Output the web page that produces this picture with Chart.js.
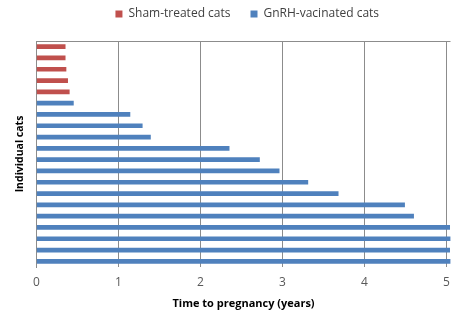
<!DOCTYPE html>
<html>
<head>
<meta charset="utf-8">
<script src="https://cdn.jsdelivr.net/npm/chart.js@4/dist/chart.umd.min.js"></script>
<style>
  body { margin: 0; background: #fff; }
  #wrap { width: 453px; height: 316px; }
</style>
</head>
<body>
<div id="wrap"><canvas id="myChart"></canvas></div>
<script>
// one row per cat, top to bottom
const gatos = ['', '', '', '', '', '', '', '', '', '', '', '', '', '', '', '', '', '', '', ''];
// sham-treated: first 5 rows
const sham = [0.35, 0.35, 0.36, 0.38, 0.40, null, null, null, null, null,
              null, null, null, null, null, null, null, null, null, null];
// GnRH-vacinated: remaining 15 rows
const gnrh = [null, null, null, null, null, 0.45, 1.14, 1.29, 1.39, 2.35,
              2.72, 2.96, 3.31, 3.68, 4.49, 4.60, 5.04, 5.05, 5.04, 5.05];
const ticksX = [0, 1, 2, 3, 4, 5];

// linea gris arriba del area del grafico + correr la leyenda un poco a la derecha
const ajustes = {
  id: 'ajustes',
  afterLayout(chart) {
    chart.legend.left += 17;
    chart.legend.right += 17;
  },
  afterDraw(chart) {
    const ctx = chart.ctx, a = chart.chartArea;
    ctx.save();
    ctx.strokeStyle = '#8c8c8c';
    ctx.lineWidth = 1;
    ctx.beginPath();
    ctx.moveTo(a.left, Math.round(a.top) + 0.5);
    ctx.lineTo(a.right, Math.round(a.top) + 0.5);
    ctx.stroke();
    ctx.restore();
  }
};

Chart.defaults.font.family = '"Open Sans", sans-serif';

let grafico = document.getElementById('myChart');
let myChart = new Chart(grafico, {
  type: 'bar',
  data: {
    labels: gatos,
    datasets: [
      { label: 'Sham-treated cats', data: sham, backgroundColor: '#c0504d', barThickness: 4 },
      { label: 'GnRH-vacinated cats', data: gnrh, backgroundColor: '#4f81bd', barThickness: 4 }
    ]
  },
  options: {
    indexAxis: 'y',
    responsive: true,
    maintainAspectRatio: false,
    animation: false,
    layout: { padding: { left: 10, right: 2.5, top: -12, bottom: 0 } },
    datasets: { bar: { grouped: false } },
    plugins: {
      legend: {
        position: 'top',
        labels: { boxWidth: 7, boxHeight: 7, padding: 20, color: '#404040', font: { size: 12 } }
      },
      tooltip: { enabled: false }
    },
    scales: {
      x: {
        min: 0,
        max: 5.05,
        afterBuildTicks: (s) => { s.ticks = ticksX.map(v => ({ value: v })); },
        afterFit: (s) => { s.height = 49; s.paddingRight = 0; s.paddingLeft = 0; },
        grid: { color: '#8c8c8c', drawTicks: false },
        border: { display: false },
        ticks: { color: '#595959', font: { size: 12 }, padding: 8 },
        title: {
          display: true,
          text: 'Time to pregnancy (years)',
          color: '#000',
          font: { size: 11, weight: 'bold' },
          padding: { top: 4, bottom: 6 }
        }
      },
      // eje vacio arriba, solo para dejar espacio bajo la leyenda
      x2: {
        position: 'top',
        grid: { display: false },
        border: { display: false },
        ticks: { display: false },
        afterFit: (s) => { s.height = 11; s.paddingRight = 0; s.paddingLeft = 0; }
      },
      y: {
        grid: { display: false },
        border: { display: true, color: '#8c8c8c' },
        ticks: { display: false },
        title: {
          display: true,
          text: 'Individual cats',
          color: '#000',
          font: { size: 10.5, weight: 'bold' },
          padding: { top: 4, bottom: 4 }
        },
        afterFit: (s) => { s.width = 26.5; }
      }
    }
  },
  plugins: [ajustes]
});
</script>
</body>
</html>
